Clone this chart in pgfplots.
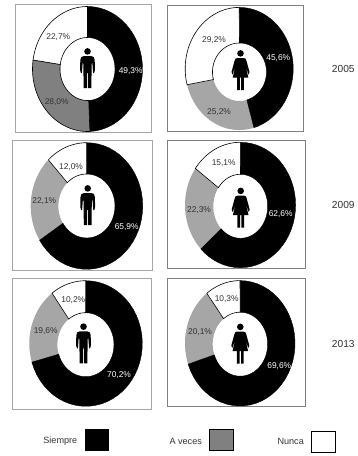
\documentclass[border=0pt]{standalone}
\usepackage{pgfplots}
\pgfplotsset{compat=1.18}
\usepackage{fontspec}
\setmainfont{Liberation Sans}
\definecolor{txt}{HTML}{333333}
\definecolor{midg}{HTML}{808080}
\definecolor{ligg}{HTML}{A6A6A6}
\newcommand\ring[4]{\def\ocx{#1}\def\ocy{#2}\def\orx{#3}\def\ory{#4}}
\newcommand\hole[4]{\def\icx{#1}\def\icy{#2}\def\irx{#3}\def\iry{#4}}
% wedge between cumulative percentages #2 and #3, drawn with the style #1
\newcommand\seg[3]{%
  \gdef\plist{}%
  \pgfmathsetmacro\aa{#2*3.6}\pgfmathsetmacro\ab{#3*3.6}%
  \foreach \i in {0,...,40}{%
    \pgfmathsetmacro\t{\aa+(\ab-\aa)*\i/40}%
    \pgfmathsetmacro\px{\ocx+\orx*sin(\t)}\pgfmathsetmacro\py{\ocy-\ory*cos(\t)}%
    \xdef\plist{\plist(\px,\py)}%
  }%
  \foreach \i in {40,39,...,0}{%
    \pgfmathsetmacro\t{\aa+(\ab-\aa)*\i/40}%
    \pgfmathsetmacro\px{\icx+\irx*sin(\t)}\pgfmathsetmacro\py{\icy-\iry*cos(\t)}%
    \xdef\plist{\plist(\px,\py)}%
  }%
  \edef\tmp{\noexpand\addplot[#1] coordinates {\plist} -- cycle;}\tmp
}
\newcommand\panel[5]{\addplot[#1,line width=0.8pt,forget plot] coordinates {(#2,#4)(#3,#4)(#3,#5)(#2,#5)} -- cycle;}
\newcommand\lab[4]{\node[font=\fontsize{8.4}{9}\selectfont,text=#1,inner sep=0pt] at (axis cs:#2,#3) {#4};}
\newcommand\labb[4]{\node[font=\fontsize{#1}{10}\selectfont,text=txt,inner sep=0pt] at (axis cs:#2,#3) {#4};}
\newcommand\man[2]{\begin{scope}[shift={(axis cs:#1,#2)},x=1pt,y=-1pt]
 \fill[black] (0,3.4) circle (3.3pt);
 \fill[black] (-3.6,8) -- (3.6,8) .. controls (6,8) and (7,9.5) .. (7.2,12) -- (7.4,22) -- (6.6,25) -- (5.6,25) -- (4.8,14.5) -- (4.1,16) -- (3.9,40) -- (0.5,40) -- (0.5,25) -- (-0.5,25) -- (-0.5,40) -- (-3.9,40) -- (-4.1,16) -- (-4.8,14.5) -- (-5.6,25) -- (-6.6,25) -- (-7.4,22) -- (-7.2,12) .. controls (-7,9.5) and (-6,8) .. (-3.6,8) -- cycle;
\end{scope}}
\newcommand\woman[2]{\begin{scope}[shift={(axis cs:#1,#2)},x=1pt,y=-1pt]
 \fill[black] (0,3.4) circle (3.3pt);
 \fill[black] (-3,8) -- (3,8) .. controls (5,8) and (5.5,9) .. (6,11) -- (9,22) -- (8,24.5) -- (5,16) -- (7.8,27.5) -- (3.4,27.5) -- (3.4,40) -- (0.7,40) -- (0.7,27.5) -- (-0.7,27.5) -- (-0.7,40) -- (-3.4,40) -- (-3.4,27.5) -- (-7.8,27.5) -- (-5,16) -- (-8,24.5) -- (-9,22) -- (-6,11) .. controls (-5.5,9) and (-5,8) .. (-3,8) -- cycle;
\end{scope}}
\begin{document}
\begin{tikzpicture}
\begin{axis}[scale only axis,width=357pt,height=456pt,xmin=0,xmax=357,ymin=0,ymax=456,y dir=reverse,hide axis,clip=false]
\path (axis cs:0,0) rectangle (axis cs:357,456);
% panels
\panel{ligg}{15.7}{151.7}{4.7}{132.3}
\panel{midg}{167.3}{303.7}{5}{131.3}
\panel{ligg}{12.7}{152.3}{140}{270}
\panel{midg}{167.7}{305}{140}{268.5}
\panel{ligg}{12.7}{151.3}{278.3}{409}
\panel{midg}{167.5}{305.3}{278.3}{406.5}
% 2005 men: 49.3 28.0 22.7
\ring{87.5}{69}{55}{62.5}\hole{87.5}{69}{27.5}{31.5}
\seg{fill=black,draw=black}{0}{49.3}
\seg{fill=midg,draw=black,line width=0.6pt}{49.3}{77.3}
\seg{fill=white,draw=black,line width=0.6pt}{77.3}{100}
% 2005 women: 45.6 25.2 29.2
\ring{239.2}{68.7}{54}{61.3}\hole{239.5}{72}{27}{29}
\seg{fill=ligg,draw=none}{45.6}{70.8}
\seg{fill=black,draw=black}{0}{45.6}
\seg{fill=white,draw=black,line width=0.6pt}{70.8}{100}
% 2009 men: 65.9 22.1 12.0
\ring{86.7}{206}{56}{63.3}\hole{86.7}{206}{28.3}{32}
\seg{fill=ligg,draw=none}{65.9}{88}
\seg{fill=black,draw=black}{0}{65.9}
\seg{fill=white,draw=black,line width=0.6pt}{88}{100}
% 2009 women: 62.6 22.3 15.1
\ring{240.3}{205}{55.3}{62.7}\hole{240.5}{206.3}{27.2}{32}
\seg{fill=ligg,draw=none}{62.6}{84.9}
\seg{fill=black,draw=black}{0}{62.6}
\seg{fill=white,draw=black,line width=0.6pt}{84.9}{100}
% 2013 men: 70.2 19.6 10.2
\ring{85.8}{343.5}{56.5}{62.8}\hole{85.7}{344.7}{28.3}{32}
\seg{fill=ligg,draw=none}{70.2}{89.8}
\seg{fill=black,draw=black}{0}{70.2}
\seg{fill=white,draw=black,line width=0.6pt}{89.8}{100}
% 2013 women: 69.6 20.1 10.3
\ring{240}{343.3}{55}{62.7}\hole{240.2}{344.2}{27.5}{32}
\seg{fill=ligg,draw=none}{69.6}{89.7}
\seg{fill=black,draw=black}{0}{69.6}
\seg{fill=white,draw=black,line width=0.6pt}{89.7}{100}
% legend swatches
\addplot[fill=black,draw=black] coordinates {(85,429.5)(108.3,429.5)(108.3,450)(85,450)} -- cycle;
\addplot[fill=midg,draw=black,line width=0.6pt] coordinates {(209,429.5)(233.3,429.5)(233.3,450)(209,450)} -- cycle;
\addplot[fill=white,draw=black,line width=0.6pt] coordinates {(311.7,431.7)(335.7,431.7)(335.7,452.3)(311.7,452.3)} -- cycle;
% labels
\lab{white}{130.7}{70.7}{49,3\%}\lab{txt}{56.7}{102.3}{28,0\%}\lab{txt}{58.3}{36.7}{22,7\%}
\lab{white}{278.3}{58.3}{45,6\%}\lab{txt}{219}{111.7}{25,2\%}\lab{txt}{214}{40}{29,2\%}
\lab{white}{126.7}{227.3}{65,9\%}\lab{txt}{44.3}{201}{22,1\%}\lab{txt}{71}{166.7}{12,0\%}
\lab{white}{280.7}{214.3}{62,6\%}\lab{txt}{199}{210}{22,3\%}\lab{txt}{223.7}{163.3}{15,1\%}
\lab{white}{119}{375}{70,2\%}\lab{txt}{45.7}{331}{19,6\%}\lab{txt}{73.3}{300}{10,2\%}
\lab{white}{279.3}{366}{69,6\%}\lab{txt}{200}{331.7}{20,1\%}\lab{txt}{226.7}{299.3}{10,3\%}
\labb{10.2}{343.3}{69}{2005}\labb{10.2}{343.3}{205}{2009}\labb{10.2}{343.3}{344}{2013}
\labb{9.1}{60.3}{441.3}{Siempre}\labb{9.1}{185.7}{441.3}{A veces}\labb{9.1}{290.7}{441.3}{Nunca}
% icons
\man{87.5}{48}\woman{240.5}{50}
\man{87.7}{185}\woman{240.7}{187.5}
\man{83.5}{323.3}\woman{240.3}{323.5}
\end{axis}
\end{tikzpicture}
\end{document}
